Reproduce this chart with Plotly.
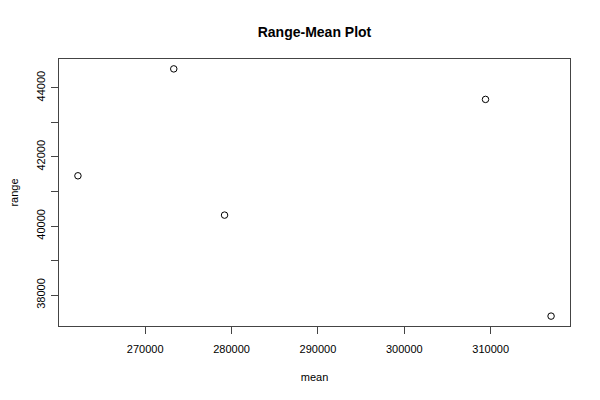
import plotly.graph_objects as go

mean_vals = [262215, 273310, 279190, 309400, 316990]
range_vals = [41453, 44547, 40315, 43664, 37392]

x_tick_vals = [270000, 280000, 290000, 300000, 310000]
x_tick_text = ["270000", "280000", "290000", "300000", "310000"]
y_tick_vals = [38000, 40000, 42000, 44000]
y_tick_text = ["38000", "40000", "42000", "44000"]

def padded(vals, frac=0.04):
    lo, hi = min(vals), max(vals)
    span = hi - lo
    return [lo - frac * span, hi + frac * span]

font_family = "Liberation Sans, Arial, Helvetica, sans-serif"
W, H = 592, 392

fig = go.Figure()
fig.add_trace(go.Scatter(
    x=mean_vals, y=range_vals, mode="markers",
    marker=dict(symbol="circle-open", size=6.5, color="black", line=dict(width=1, color="black")),
    showlegend=False, hoverinfo="x+y",
))

fig.update_layout(
    width=W, height=H,
    margin=dict(l=51, r=30, t=51, b=74, autoexpand=False),
    paper_bgcolor="white", plot_bgcolor="white",
    font=dict(family=font_family, size=11, color="black"),
    title=dict(text="<b>Range-Mean Plot</b>", x=(51 + 562) / 2 / W, xanchor="center",
               y=1 - 24 / H, yanchor="middle", automargin=False,
               font=dict(family=font_family, size=14, color="black")),
    xaxis=dict(
        range=padded(mean_vals), showgrid=False, zeroline=False, automargin=False,
        showline=True, mirror=True, linecolor="#444", linewidth=1,
        tickmode="array", tickvals=x_tick_vals, ticktext=x_tick_text,
        ticks="outside", ticklen=7, tickcolor="#444", tickwidth=1,
        ticklabelstandoff=6,
        tickfont=dict(size=11, family=font_family),
        title=dict(text="mean", font=dict(size=11, family=font_family), standoff=19),
    ),
    yaxis=dict(
        range=padded(range_vals), showgrid=False, zeroline=False, automargin=False,
        showline=True, mirror=True, linecolor="#444", linewidth=1,
        tickmode="array", tickvals=y_tick_vals, ticktext=y_tick_text,
        ticks="outside", ticklen=7, tickcolor="#444", tickwidth=1,
        tickangle=-90, ticklabelstandoff=2,
        tickfont=dict(size=11, family=font_family),
        minor=dict(dtick=1000, tick0=0, ticks="outside", ticklen=7, tickcolor="#444", tickwidth=1, showgrid=False),
        title=dict(text="range", font=dict(size=11, family=font_family), standoff=19),
    ),
)

fig.write_html("out.html")
